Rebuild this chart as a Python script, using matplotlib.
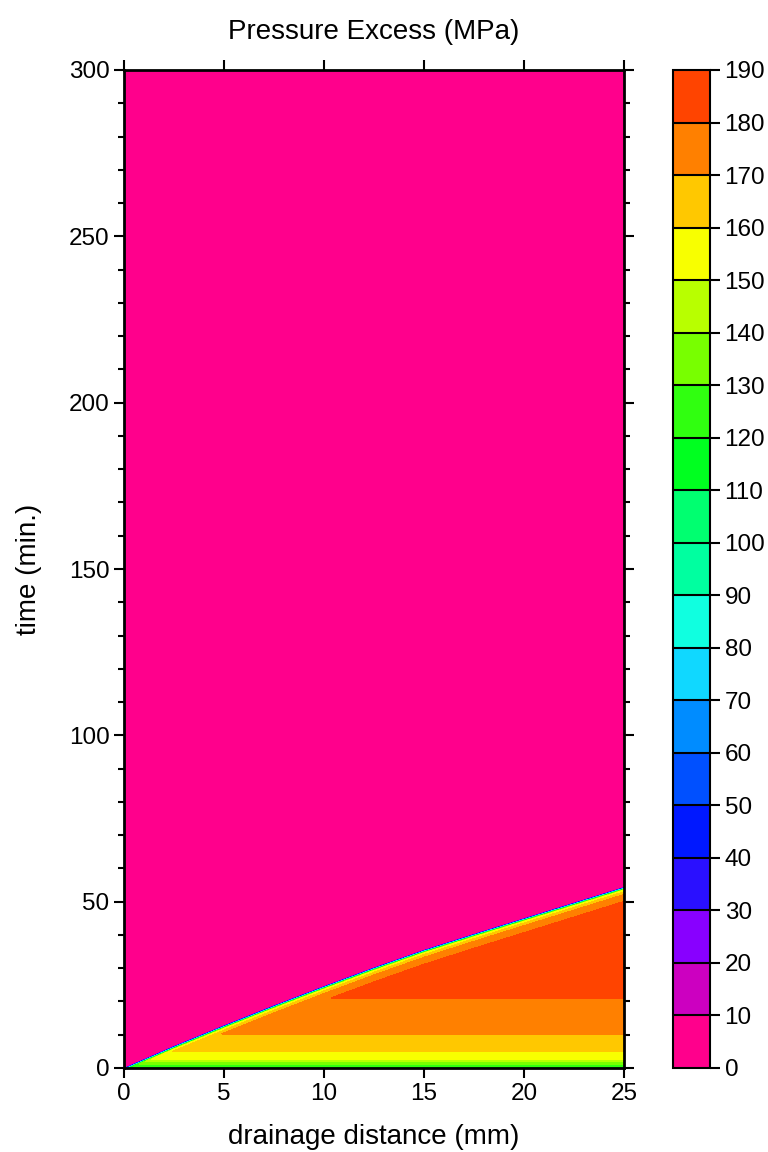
# Mapa de contornos: exceso de presión en función de la distancia y el tiempo
import matplotlib.pyplot as plt
import numpy as np

plt.rcParams['font.family'] = ['Liberation Sans', 'DejaVu Sans']

# niveles de contorno (MPa) y un color por banda
niveles = np.arange(0, 200, 10)
colores = ["#ff008c", "#cc00c0", "#8800ff", "#2a10ff", "#0018ff",
           "#0050ff", "#008cff", "#10d8ff", "#10ffe0", "#00ffa0",
           "#00ff70", "#00ff20", "#30ff10", "#78ff00", "#b8ff00",
           "#f8ff00", "#ffc800", "#ff8000", "#ff4400"]

# posición del frente de drenaje (mm, min)
x_frente = [0, 2.5, 5, 7.5, 10, 12.5, 15, 17.5, 20, 22.5, 25]
t_frente = [0, 6.6, 12.8, 18.8, 24.6, 30.2, 35.5, 40.3, 45.0, 49.7, 54.4]

# presión por debajo del frente según el tiempo (min, MPa)
t_base = [0, 0.4, 1.1, 1.9, 2.6, 4.9, 10.2, 21.0, 50, 60, 300]
p_base = [110, 120, 130, 140, 150, 160, 170, 180, 185.5, 186, 186]

# presión según los minutos por debajo del frente (min, MPa)
d_frente = [0, 0.2, 0.45, 0.7, 0.95, 1.4, 2.2, 4.3, 8]
p_frente = [2, 30, 80, 120, 150, 160, 170, 180, 190]

x = np.linspace(0, 25, 501)
t = np.linspace(0, 300, 3001)
X, T = np.meshgrid(x, t)
tf = np.interp(X, x_frente, t_frente)
P = np.minimum(np.interp(T, t_base, p_base),
               np.interp(tf - T, d_frente, p_frente))

fig = plt.figure(figsize=(7.68, 11.52), dpi=100)
ax = fig.add_axes([124/768, 84/1152, 500/768, 998/1152])
cf = ax.contourf(X, T, P, levels=niveles, colors=colores)

ax.set_xlim(0, 25)
ax.set_ylim(0, 300)
ax.set_xticks(range(0, 26, 5))
ax.set_yticks(range(0, 301, 50))
ax.set_yticks(range(0, 301, 10), minor=True)
ax.tick_params(which='both', direction='out', top=True, right=True,
               width=1.5, labelsize=17.5)
ax.tick_params(which='major', length=7)
ax.tick_params(which='minor', length=4)
for lado in ax.spines.values():
    lado.set_linewidth(2)

ax.set_title("Pressure Excess (MPa)", fontsize=20, pad=22)
ax.set_xlabel("drainage distance (mm)", fontsize=20, labelpad=14)
ax.set_ylabel("time (min.)", fontsize=20, labelpad=19)

# barra de colores con separadores entre bandas
cax = fig.add_axes([673/768, 84/1152, 37/768, 998/1152])
cb = fig.colorbar(cf, cax=cax, ticks=niveles, drawedges=True)
cb.ax.tick_params(labelsize=17.5, direction='out', length=7, width=1.5)
cb.outline.set_linewidth(1.5)
cb.dividers.set_linewidth(1.5)

plt.savefig("out.png", dpi=100)
